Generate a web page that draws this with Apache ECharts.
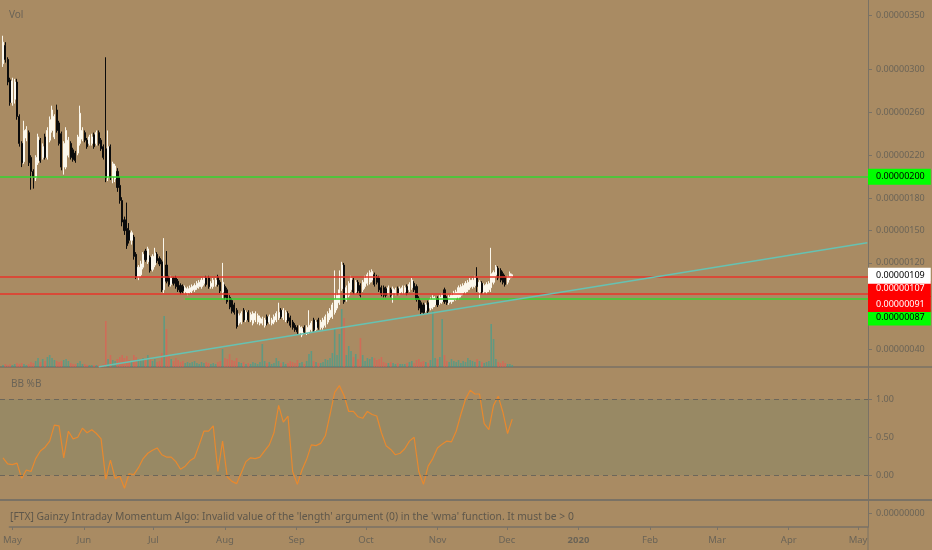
<!DOCTYPE html>
<html>
<head>
<meta charset="utf-8">
<title>FTX daily</title>
<script src="https://cdn.jsdelivr.net/npm/echarts@6/dist/echarts.min.js"></script>
<style>
html, body { margin: 0; padding: 0; background: #a98b63; }
#chart { width: 932px; height: 550px; }
</style>
</head>
<body>
<div id="chart"></div>
<script>
var DAY = 86400000;
var firstDay = '2019-05-01';

// daily candles from 1 May 2019, [open, close, low, high] in units of 0.00000001
var candles = [
  // May
  [305,325,302,331],[322,309,306,325],[309,288,285,311],[290,269,266,292],[269,289,266,292],
  [272,288,268,291],[288,256,253,291],[256,231,228,258],[231,213,209,233],[214,243,212,252],
  [236,244,233,247],[241,213,210,243],[218,205,188,220],[205,200,189,207],[199,218,196,220],
  [213,237,211,240],[234,215,213,236],[218,228,216,231],[237,218,216,240],[218,243,216,246],
  [234,253,232,256],[243,262,241,266],[237,256,235,258],[262,243,241,267],[250,231,229,252],
  [240,209,206,242],[209,231,202,233],[209,243,207,246],[220,234,218,237],[231,218,216,233],
  [225,216,214,227],
  // Jun
  [222,215,213,224],[222,237,220,239],[231,259,229,266],[235,243,233,246],[241,234,232,243],
  [234,228,226,236],[231,237,229,239],[231,237,229,240],[239,228,226,241],[231,241,229,243],
  [241,231,229,243],[234,226,224,236],[228,218,216,230],[226,199,195,311],[199,228,196,243],
  [228,200,197,230],[200,212,194,214],[198,210,195,212],[205,190,186,208],[192,178,175,200],
  [178,158,154,181],[160,150,146,163],[152,136,133,176],[150,141,138,157],[141,148,137,150],
  [144,126,123,146],[128,107,105,130],[107,116,104,118],[109,119,107,122],[116,128,114,130],
  // Jul
  [131,123,121,133],[121,133,119,135],[125,113,111,127],[114,126,112,128],[118,129,116,134],
  [128,122,120,130],[124,119,117,126],[121,95,93,123],[95,107,92,143],[118,103,101,131],
  [106,100,98,108],[100,106,98,108],[106,101,99,107],[106,98,96,108],[103,95,93,105],
  [99,93,91,101],[98,94,92,100],[93,97,91,99],[92,96,90,98],[93,97,91,99],
  [94,98,92,100],[95,99,93,101],[97,101,95,103],[98,102,96,104],[98,104,96,106],
  [101,106,99,107],[106,100,98,108],[106,98,96,108],[98,101,96,103],[98,104,96,106],
  [100,104,98,106],
  // Aug
  [107,100,98,109],[102,94,92,104],[93,102,87,120],[98,88,86,100],[95,84,82,97],
  [88,79,77,90],[85,75,73,87],[81,74,72,83],[76,61,59,78],[64,71,62,73],
  [65,73,63,75],[76,67,65,78],[67,74,65,76],[74,67,65,76],[67,72,65,74],
  [64,73,62,75],[67,73,65,75],[65,71,63,73],[64,69,62,71],[64,68,62,70],
  [62,67,60,69],[70,64,62,72],[65,70,63,72],[64,67,62,69],[65,70,63,72],
  [67,73,65,75],[69,74,67,83],[76,70,68,78],[69,76,67,78],[67,74,65,76],
  [73,66,64,75],
  // Sep
  [69,62,60,71],[65,60,58,67],[62,58,56,64],[60,56,54,62],[55,60,53,62],
  [53,59,51,61],[60,56,54,62],[55,60,53,62],[56,62,54,76],[58,64,56,66],
  [67,58,56,69],[58,65,56,67],[67,60,58,69],[60,65,58,67],[60,67,58,69],
  [62,70,60,72],[65,73,63,75],[69,76,67,78],[70,81,68,83],[74,86,72,113],
  [78,90,76,92],[83,95,81,113],[96,118,94,121],[118,84,82,120],[86,97,84,99],
  [90,101,88,103],[95,106,93,108],[104,93,91,106],[93,102,91,104],[102,94,92,104],
  // Oct
  [99,90,88,101],[95,102,93,104],[98,106,96,108],[101,109,99,111],[102,111,100,113],
  [104,112,102,114],[109,100,98,111],[107,102,100,109],[106,95,93,108],[97,91,89,99],
  [97,90,88,99],[96,90,88,98],[92,97,90,99],[95,90,88,97],[92,96,83,98],
  [92,95,90,97],[96,92,90,98],[92,96,90,98],[93,97,91,99],[93,97,91,99],
  [98,92,90,100],[95,100,93,102],[97,104,95,106],[101,95,93,103],[98,86,84,100],
  [87,78,76,89],[83,74,72,85],[81,74,72,83],[76,81,74,83],[83,75,73,85],
  [78,86,76,88],
  // Nov
  [79,88,77,90],[81,87,79,89],[87,81,79,89],[83,88,81,90],[84,90,82,92],
  [95,84,82,97],[87,83,81,89],[83,88,81,90],[84,90,82,92],[86,92,84,94],
  [87,93,85,95],[88,97,86,99],[90,98,88,100],[92,99,90,101],[93,101,91,103],
  [95,102,93,104],[97,104,95,106],[98,104,96,106],[99,106,97,108],[106,98,93,116],
  [93,102,87,104],[101,93,91,103],[93,99,91,101],[93,100,91,102],[95,101,93,103],
  [97,110,93,134],[102,111,100,113],[109,116,107,118],[115,106,104,117],[113,104,102,115],
  // Dec
  [110,102,100,112],[107,100,98,109],[102,107,100,108],[106,110,104,112],[107,109,106,110]
];

// daily volume (relative units)
var volumes = [
  20,30,20,30,20,30,40,30,40,30,20,30,50,40,60,90,50,80,60,100,120,90,70,60,50,60,70,80,60,40,30,
  30,40,60,30,30,20,20,20,20,20,20,20,30,460,80,120,70,60,80,100,120,90,110,70,60,120,100,80,70,90,
  80,120,90,60,80,50,60,140,510,380,120,80,60,90,70,50,60,40,50,40,50,60,40,30,50,40,50,40,30,40,30,
  50,60,180,90,80,130,70,60,90,50,40,50,30,40,30,50,40,30,50,230,60,40,50,30,40,90,60,40,50,30,40,
  60,50,40,70,40,50,30,60,130,160,60,50,40,40,50,80,70,90,140,380,120,330,580,490,120,210,160,100,130,80,
  290,120,60,90,80,100,90,70,80,100,50,40,40,50,40,30,40,30,30,30,40,50,60,40,70,80,50,60,50,40,70,
  560,90,80,100,480,120,60,50,80,60,50,70,40,60,50,90,70,60,50,80,60,50,40,50,60,430,280,80,50,40,
  60,40,30,30,20
];

// BB %B, one reading every second day from 1 May 2019
var bbStep = 2;
var bbPct = [
  0.23,0.15,0.14,0.16,-0.04,0.07,0.05,0.22,0.32,0.37,
  0.45,0.66,0.65,0.23,0.58,0.48,0.50,0.62,0.56,0.60,
  0.55,0.48,-0.05,0.20,-0.04,-0.01,-0.17,0.02,0.01,0.10,
  0.22,0.29,0.33,0.36,0.27,0.24,0.24,0.18,0.08,0.12,
  0.19,0.23,0.40,0.58,0.58,0.65,0.05,0.45,-0.02,-0.08,
  -0.11,0.03,0.18,0.23,0.22,0.24,0.32,0.40,0.56,0.92,
  0.70,0.78,0.05,-0.12,0.07,0.21,0.40,0.39,0.42,0.52,
  0.80,1.09,1.18,1.05,0.84,0.84,0.77,0.75,0.84,0.80,
  0.78,0.56,0.39,0.34,0.27,0.29,0.35,0.45,0.50,0.05,
  -0.12,0.12,0.22,0.36,0.41,0.45,0.44,0.58,0.80,1.00,
  1.12,1.07,1.07,0.68,0.60,0.92,1.04,0.83,0.55,0.74
];

// drawn levels and trend line
var greenLevels = [200, 87];
var greenStart = [null, '2019-07-18'];   // null = from the left edge
var redLevels = [107, 91];
var lastPrice = 109;
var trendLine = [['2019-06-11', 23.5], ['2020-05-05', 138.8]];

// axis ticks
var priceTicks = [40, 120, 150, 180, 220, 260, 300, 350];
var bbTicks = [0, 0.5, 1];
var monthTicks = ['2019-05-01','2019-06-01','2019-07-01','2019-08-01','2019-09-01','2019-10-01',
  '2019-11-01','2019-12-01','2020-01-01','2020-02-01','2020-03-01','2020-04-01','2020-05-01'];
var monthLabels = ['May','Jun','Jul','Aug','Sep','Oct','Nov','Dec','2020','Feb','Mar','Apr','May'];

var errorText = "[FTX] Gainzy Intraday Momentum Algo: Invalid value of the 'length' argument (0) in the 'wma' function. It must be > 0";

function ts(s) { return new Date(s + 'T00:00:00Z').getTime(); }
function fmt(v) { return (v / 1e8).toFixed(8); }

var t0 = ts(firstDay);
var xMin = t0 - 1.28 * DAY;
var xMax = ts('2020-05-01') + 4.3 * DAY;
var tickTimes = monthTicks.map(ts);

var candleData = candles.map(function (c, i) { return [t0 + i * DAY, c[0], c[1], c[2], c[3]]; });
var volData = volumes.map(function (v, i) {
  var up = candles[i][1] >= candles[i][0];
  return { value: [t0 + i * DAY, v], itemStyle: { color: up ? 'rgba(38,166,154,0.55)' : 'rgba(239,83,80,0.55)' } };
});
var bbData = bbPct.map(function (v, k) { return [t0 + k * bbStep * DAY, v]; });

var axisColor = '#7a7265';
var textColor = '#6b6457';
var font = 'Noto Sans';

function boxLabel(v, bg, fg, dy) {
  return {
    show: true, position: 'end', distance: 0, formatter: fmt(v),
    backgroundColor: bg, color: fg, fontFamily: font, fontSize: 9,
    padding: [4, 6, 3, 8], offset: [0, dy]
  };
}

function level(v, from, color, bg, fg, dy) {
  return [
    { coord: [from ? ts(from) : xMin, v] },
    { coord: [xMax, v], lineStyle: { color: color, width: 1.5, type: 'solid' }, label: boxLabel(v, bg, fg, dy) }
  ];
}

var levelLines = [
  level(greenLevels[0], greenStart[0], '#35d62f', '#00ff00', '#000', 0),
  level(greenLevels[1], greenStart[1], '#35d62f', '#00ff00', '#000', 19),
  level(redLevels[0], null, '#e8352a', '#ff0000', '#fff', 12),
  level(redLevels[1], null, '#e8352a', '#ff0000', '#fff', 10),
  level(lastPrice, null, 'rgba(0,0,0,0)', '#ffffff', '#000', 1),
  [{ coord: [ts(trendLine[0][0]), trendLine[0][1]] },
   { coord: [ts(trendLine[1][0]), trendLine[1][1]], lineStyle: { color: '#66c2b2', width: 1.5, type: 'solid' }, label: { show: false } }]
];

// dates sit on a plain value axis so the month ticks can be placed exactly
function dateAxis(gridIndex, showLabels) {
  return {
    type: 'value', gridIndex: gridIndex, min: xMin, max: xMax, scale: true,
    axisLine: { show: true, onZero: false, lineStyle: { color: axisColor, width: gridIndex === 1 ? 2 : 1.5 } },
    axisTick: { show: showLabels, customValues: tickTimes, length: 3, lineStyle: { color: axisColor } },
    axisLabel: {
      show: showLabels, customValues: tickTimes, margin: 8, color: textColor,
      fontFamily: font, fontSize: 9.5,
      formatter: function (v) {
        var i = tickTimes.indexOf(v);
        var s = i >= 0 ? monthLabels[i] : '';
        return i === 8 ? '{yr|' + s + '}' : s;
      },
      rich: { yr: { fontWeight: 'bold', color: textColor, fontFamily: font, fontSize: 9.5 } }
    },
    splitLine: { show: false }
  };
}

function rightAxis(gridIndex, min, max, ticks, formatter) {
  return {
    type: 'value', gridIndex: gridIndex, position: 'right', min: min, max: max,
    axisLine: { show: true, lineStyle: { color: axisColor } },
    axisTick: { show: true, length: 4, customValues: ticks, lineStyle: { color: axisColor } },
    axisLabel: { customValues: ticks, formatter: formatter, color: textColor, fontFamily: font, fontSize: 9, margin: 8 },
    splitLine: { show: false }
  };
}

var chart = echarts.init(document.getElementById('chart'));
chart.setOption({
  animation: false,
  backgroundColor: '#a98b63',
  title: [
    { text: 'Vol', left: 4, top: 5, textStyle: { fontSize: 10, color: textColor, fontWeight: 'normal', fontFamily: font } },
    { text: 'BB %B', left: 6, top: 374, textStyle: { fontSize: 10, color: textColor, fontWeight: 'normal', fontFamily: font } },
    { text: errorText, left: 5, top: 507, textStyle: { fontSize: 10.3, color: '#5e574b', fontWeight: 'normal', fontFamily: font } }
  ],
  grid: [
    { left: 0, right: 64, top: 0, height: 367 },
    { left: 0, right: 64, top: 367, height: 133 },
    { left: 0, right: 64, top: 500, height: 27 }
  ],
  xAxis: [dateAxis(0, false), dateAxis(1, false), dateAxis(2, true)],
  yAxis: [
    rightAxis(0, 23.3, 364.2, priceTicks, fmt),
    { type: 'value', gridIndex: 0, min: 0, max: 3670, show: false },
    rightAxis(1, -0.325, 1.425, bbTicks, function (v) { return v.toFixed(2); }),
    rightAxis(2, -1, 1, [0], function () { return fmt(0); })
  ],
  graphic: [
    { type: 'line', shape: { x1: 868, y1: 367, x2: 932, y2: 367 }, style: { stroke: axisColor, lineWidth: 1.5 } },
    { type: 'line', shape: { x1: 868, y1: 500, x2: 932, y2: 500 }, style: { stroke: axisColor, lineWidth: 2 } },
    { type: 'line', shape: { x1: 868, y1: 527, x2: 868, y2: 550 }, style: { stroke: axisColor, lineWidth: 1 } }
  ],
  series: [
    {
      name: 'Volume', type: 'bar', xAxisIndex: 0, yAxisIndex: 1, barWidth: 1.6, z: 1,
      data: volData
    },
    {
      name: 'Price', type: 'candlestick', xAxisIndex: 0, yAxisIndex: 0, z: 3,
      barWidth: 1.6, encode: { x: 0, y: [1, 2, 3, 4] },
      itemStyle: { color: '#fbf7ec', color0: '#0b0b0b', borderColor: '#fbf7ec', borderColor0: '#0b0b0b', borderWidth: 1 },
      data: candleData,
      markLine: { symbol: 'none', silent: true, animation: false, data: levelLines }
    },
    {
      name: 'BB %B', type: 'line', xAxisIndex: 1, yAxisIndex: 2, symbol: 'none',
      lineStyle: { color: '#e8892e', width: 1.2 },
      data: bbData,
      markArea: { silent: true, itemStyle: { color: 'rgba(30,120,110,0.12)' }, data: [[{ yAxis: 0 }, { yAxis: 1 }]] },
      markLine: {
        symbol: 'none', silent: true, label: { show: false },
        lineStyle: { color: '#6c665a', type: [5, 4], width: 1 },
        data: [{ yAxis: 0 }, { yAxis: 1 }]
      }
    },
    { name: 'Algo', type: 'line', xAxisIndex: 2, yAxisIndex: 3, data: [] }
  ]
});
</script>
</body>
</html>
